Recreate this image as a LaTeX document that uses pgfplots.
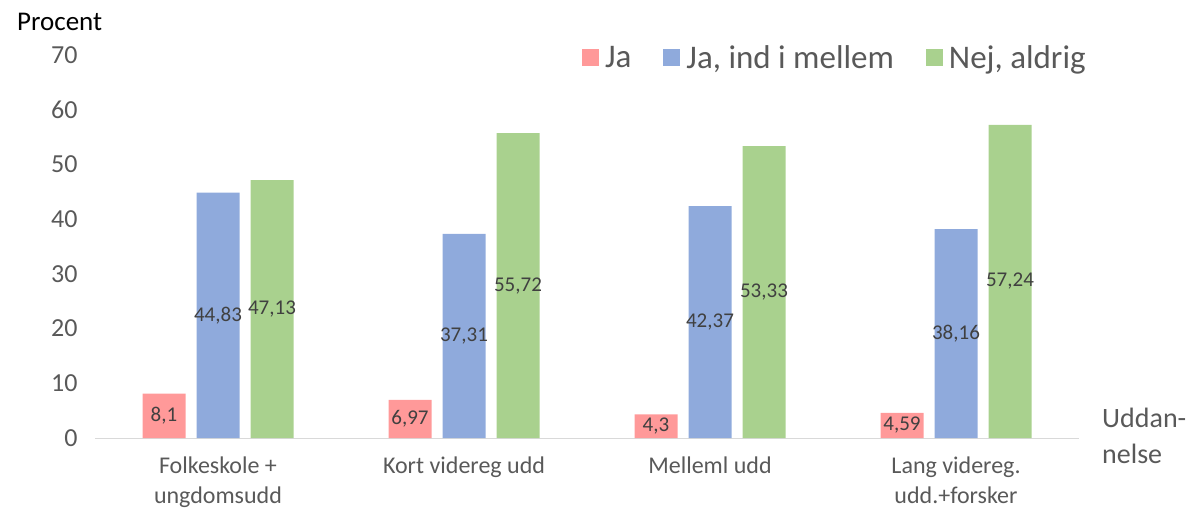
\documentclass[border=0pt]{standalone}
\usepackage{pgfplots}
\pgfplotsset{compat=1.18}
\usepackage{fontspec}
\setmainfont{Carlito}
\definecolor{cJa}{HTML}{FF9999}
\definecolor{cInd}{HTML}{8FAADC}
\definecolor{cNej}{HTML}{A9D18E}
\definecolor{txt}{HTML}{595959}
\definecolor{lbl}{HTML}{404040}
\begin{document}
\begin{tikzpicture}[x=1pt,y=1pt]
\path[use as bounding box] (0,0) rectangle (1191,509);
\begin{axis}[
  at={(95pt,71pt)}, anchor=south west,
  scale only axis, width=984pt, height=383pt,
  xmin=-0.5, xmax=3.5, ymin=0, ymax=70,
  ybar=11pt, bar width=43pt,
  xtick={0,1,2,3},
  xticklabels={{Folkeskole +\\ungdomsudd},{Kort videreg udd},{Melleml udd},{Lang videreg.\\udd.+forsker}},
  xticklabel style={align=center, font=\fontsize{24}{30}\selectfont, text=txt, yshift=-11pt},
  ytick={0,10,...,70},
  yticklabel style={font=\fontsize{26}{28}\selectfont, text=txt, xshift=-14pt},
  /pgf/number format/assume math mode=true,
  /pgf/number format/use comma,
  separate axis lines,
  axis x line*=bottom, axis y line*=left,
  x axis line style={draw=black!15, line width=1pt, -},
  y axis line style={draw=none},
  major tick style={draw=none},
  nodes near coords,
  visualization depends on=y \as \rawy,
  nodes near coords style={anchor=center, yshift={-0.5*\rawy*383/70}, font=\fontsize{21}{24}\selectfont, text=lbl},
  legend columns=3,
  legend style={at={(1.012,0.992)}, anchor=east, draw=none, fill=none,
    font=\fontsize{33}{36}\selectfont, text=txt,
    /tikz/every even column/.append style={column sep=30pt}},
  legend image code/.code={\fill[#1] (0pt,-8pt) rectangle (17pt,9pt); \path (21pt,0pt);},
]
\addplot[fill=cJa, draw=none] coordinates {(0,8.1) (1,6.97) (2,4.3) (3,4.59)};
\addplot[fill=cInd, draw=none] coordinates {(0,44.83) (1,37.31) (2,42.37) (3,38.16)};
\addplot[fill=cNej, draw=none] coordinates {(0,47.13) (1,55.72) (2,53.33) (3,57.24)};
\legend{Ja, {Ja, ind i mellem}, {Nej, aldrig}}
\end{axis}
\node[anchor=west, font=\fontsize{27}{30}\selectfont, inner sep=0] at (17,487) {Procent};
\node[anchor=north west, align=left, font=\fontsize{28}{36}\selectfont, text=txt, inner sep=0] at (1102,101) {Uddan-\\nelse};
\end{tikzpicture}
\end{document}
